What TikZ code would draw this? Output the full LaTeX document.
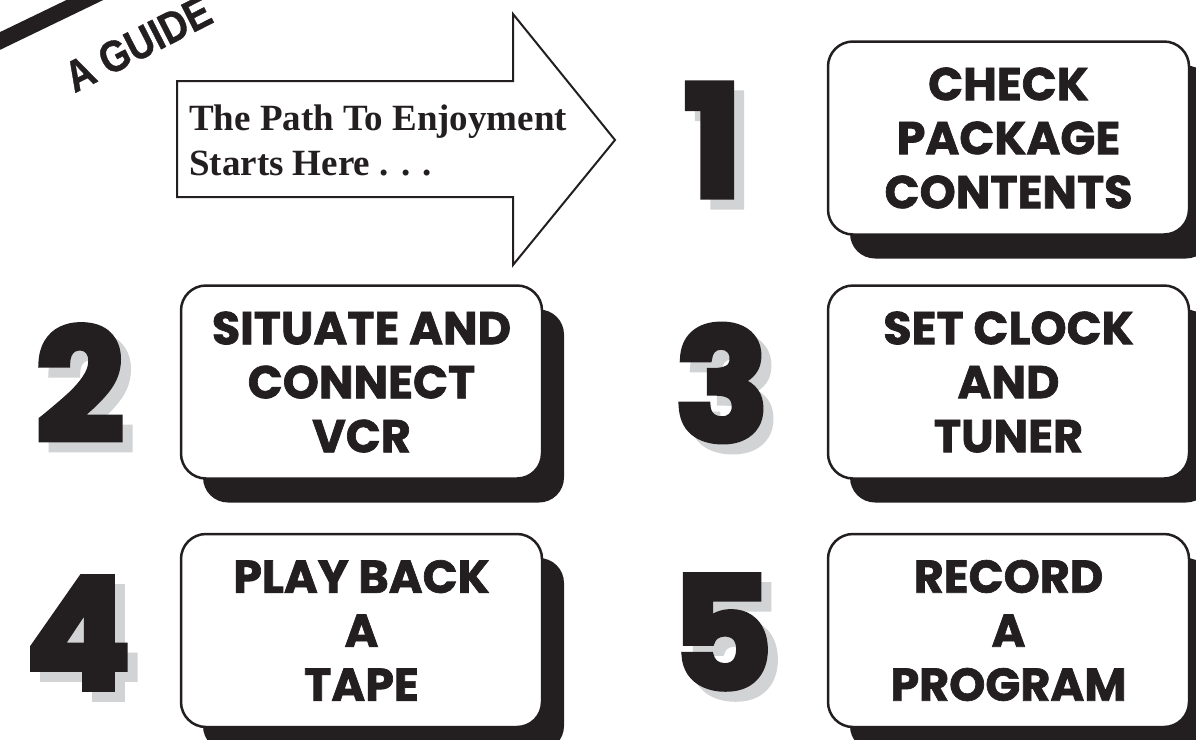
\documentclass[tikz,border=0pt]{standalone}
\usepackage{fontspec}
\setmainfont{Liberation Serif}
\newfontfamily\boxfont{Poppins}[FakeBold=1.5]
\newfontfamily\digitfont{Poppins}[FakeBold=4]
\newfontfamily\guidefont{Liberation Sans}[FakeBold=1]
\usetikzlibrary{shadows}
\definecolor{ink}{RGB}{35,31,32}
\definecolor{shade}{RGB}{209,211,212}
\begin{document}
\begin{tikzpicture}[x=1pt,y=-1pt,
  stepbox/.style={draw=ink, line width=2.5pt, fill=white, rounded corners=25pt,
    minimum width=361pt, minimum height=193pt, inner sep=0pt, align=center,
    text=ink, font=\boxfont\bfseries\fontsize{46}{54}\selectfont,
    general shadow={fill=ink, shadow xshift=22pt, shadow yshift=-24pt}},
  digit/.style={inner sep=0pt, text=ink, font=\digitfont\bfseries\fontsize{155}{160}\selectfont},
  digitshadow/.style={digit, text=shade},
  guide/.style={inner sep=0pt, text=ink, font=\guidefont\bfseries\fontsize{44}{44}\selectfont},
  arrowshape/.style={draw=ink, line width=2pt, fill=white, miter limit=10},
  arrowtext/.style={inner sep=0pt, text=ink, align=left, font=\bfseries\fontsize{37}{45}\selectfont}
]
\clip (0,0) rectangle (1196,739);
% top-left band and title
\coordinate (bandA) at (-27,54);
\coordinate (bandB) at (117,-15.5);
\draw[ink, line width=16pt] (bandA) -- (bandB);
\node[guide, rotate=27, xscale=0.86] (title) at (138,44) {A GUIDE};
% arrow
\draw[arrowshape] (177,81) -- (513,81) -- (513,14) -- (615,140) -- (513,265) -- (513,197) -- (177,197) -- cycle;
\node[arrowtext, anchor=west] (start) at (189,140) {The Path To Enjoyment\\Starts Here . . .};
% digits
\node[digitshadow] (d1s) at (723,150) {1};
\node[digit] (d1) at (713,140) {1};
\node[digitshadow] (d2s) at (90,393) {2};
\node[digit] (d2) at (80,383) {2};
\node[digitshadow] (d3s) at (732,393) {3};
\node[digit] (d3) at (722,383) {3};
\node[digitshadow] (d4s) at (88,643) {4};
\node[digit] (d4) at (78,633) {4};
\node[digitshadow] (d5s) at (732,642) {5};
\node[digit] (d5) at (722,632) {5};
% boxes
\node[stepbox] (b1) at (1008.5,138) {CHECK\\PACKAGE\\CONTENTS};
\node[stepbox] (b2) at (361.5,382) {SITUATE AND\\CONNECT\\VCR};
\node[stepbox] (b3) at (1008.5,382) {SET CLOCK\\AND\\TUNER};
\node[stepbox] (b4) at (361.5,630.5) {PLAY BACK\\A\\TAPE};
\node[stepbox] (b5) at (1008.5,630.5) {RECORD\\A\\PROGRAM};
\end{tikzpicture}
\end{document}
